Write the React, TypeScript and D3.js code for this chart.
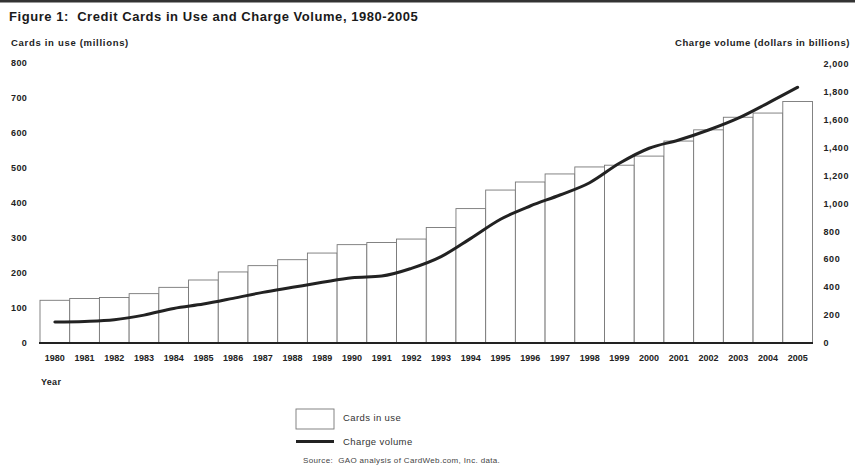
import React from "react";
import * as d3 from "d3";

const years = ["1980","1981","1982","1983","1984","1985","1986","1987","1988","1989","1990","1991","1992","1993","1994","1995","1996","1997","1998","1999","2000","2001","2002","2003","2004","2005"];
const cardsInUse = [122,127,130,141,159,180,203,221,238,257,281,287,297,330,384,437,460,483,503,508,534,577,609,645,657,690];
const chargeVolume = [150,155,167,200,248,279,320,363,399,435,468,480,535,619,750,887,982,1061,1149,1288,1396,1455,1527,1612,1720,1833];
const leftTicks = [0,100,200,300,400,500,600,700,800];
const rightTicks = [0,200,400,600,800,1000,1200,1400,1600,1800,2000];

const W = 855, H = 474;
const FONT = "'Liberation Sans', Arial, Helvetica, sans-serif";

export default function App() {
  const x = d3.scaleBand<string>().domain(years).range([40, 812.5]).padding(0);
  const yL = d3.scaleLinear().domain([0, 800]).range([343, 63]);
  const yR = d3.scaleLinear().domain([0, 2000]).range([343, 64]);
  const line = d3.line<number>()
    .x((_, i) => (x(years[i]) as number) + x.bandwidth() / 2)
    .y((d) => yR(d))
    .curve(d3.curveMonotoneX);
  const fmt = d3.format(",");
  return (
    <svg width={W} height={H} style={{ position: "absolute", left: 0, top: 0, background: "#fff" }} fontFamily={FONT}>
      <rect x={0} y={0} width={W} height={H} fill="#fff" />
      <rect x={0} y={0} width={W} height={2.5} fill="#333" />
      <text x={9} y={21} fontSize={13} fontWeight="bold" fill="#1a1a1a" letterSpacing={0.55} style={{ whiteSpace: "pre" }}>Figure 1:  Credit Cards in Use and Charge Volume, 1980-2005</text>
      <text x={11} y={46} fontSize={9.5} fontWeight="bold" fill="#222" letterSpacing={0.7}>Cards in use (millions)</text>
      <text x={850} y={46} fontSize={9.5} fontWeight="bold" fill="#222" letterSpacing={0.55} textAnchor="end">Charge volume (dollars in billions)</text>
      {leftTicks.map((t) => (
        <text key={"l" + t} x={27} y={yL(t)} dy="0.35em" fontSize={9} fontWeight="bold" fill="#222" letterSpacing={0.3} textAnchor="end">{t}</text>
      ))}
      {rightTicks.map((t) => (
        <text key={"r" + t} x={823.5} y={yR(t)} dy="0.35em" fontSize={9} fontWeight="bold" fill="#222" letterSpacing={0.6}>{fmt(t)}</text>
      ))}
      {cardsInUse.map((v, i) => (
        <rect key={"b" + i} x={x(years[i])} y={yL(v)} width={x.bandwidth()} height={yL(0) - yL(v)} fill="#fff" stroke="#777" strokeWidth={0.9} />
      ))}
      <line x1={39} x2={813} y1={343} y2={343} stroke="#222" strokeWidth={2} />
      <path d={line(chargeVolume) || ""} fill="none" stroke="#222" strokeWidth={3} strokeLinejoin="round" strokeLinecap="round" />
      {years.map((yr) => (
        <text key={"x" + yr} x={(x(yr) as number) + x.bandwidth() / 2} y={361} fontSize={9} fontWeight="bold" fill="#222" textAnchor="middle">{yr}</text>
      ))}
      <text x={41} y={385} fontSize={9} fontWeight="bold" fill="#222" letterSpacing={0.3}>Year</text>
      <rect x={296} y={409} width={38} height={20} fill="#fff" stroke="#777" strokeWidth={0.9} />
      <text x={343} y={418} dy="0.35em" fontSize={9.5} fill="#333" letterSpacing={0.4}>Cards in use</text>
      <line x1={296} x2={334} y1={441.5} y2={441.5} stroke="#222" strokeWidth={3} />
      <text x={343} y={441.5} dy="0.35em" fontSize={9.5} fill="#333" letterSpacing={0.4}>Charge volume</text>
      <text x={303} y={460} dy="0.35em" fontSize={8} fill="#444" letterSpacing={0.35} style={{ whiteSpace: "pre" }}>Source:  GAO analysis of CardWeb.com, Inc. data.</text>
    </svg>
  );
}
